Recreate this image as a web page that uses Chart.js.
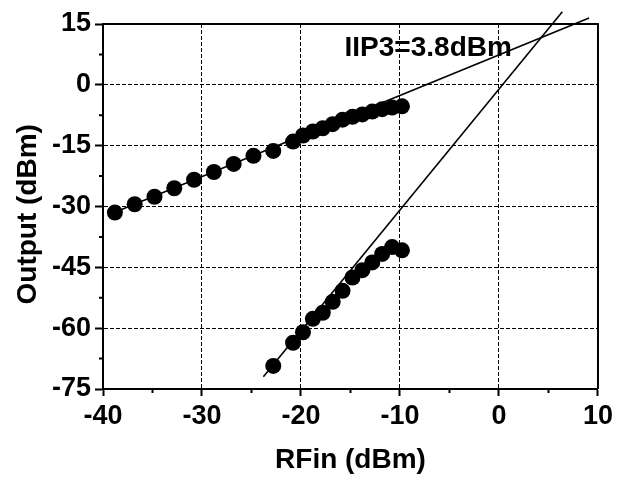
<!DOCTYPE html>
<html>
<head>
<meta charset="utf-8">
<script src="https://cdn.jsdelivr.net/npm/chart.js@4"></script>
<style>
html,body{margin:0;padding:0;background:#fff;}
#wrap{width:617px;height:481px;}
</style>
</head>
<body>
<div id="wrap"><canvas id="c" width="617" height="481"></canvas></div>
<script>
// ---- data ----
const fundX = [-38.8,-36.8,-34.8,-32.8,-30.8,-28.8,-26.8,-24.8,-22.8,-20.8,-19.8,-18.8,-17.8,-16.8,-15.8,-14.8,-13.8,-12.8,-11.8,-10.8,-9.8];
const fundY = [-31.5,-29.45,-27.6,-25.5,-23.4,-21.5,-19.5,-17.5,-16.3,-14.0,-12.5,-11.5,-10.7,-9.7,-8.6,-7.9,-7.3,-6.6,-6.0,-5.6,-5.3];
const im3X = [-22.8,-20.8,-19.8,-18.8,-17.8,-16.8,-15.8,-14.8,-13.8,-12.8,-11.8,-10.8,-9.8];
const im3Y = [-69.3,-63.6,-61.0,-57.7,-56.2,-53.5,-50.8,-47.5,-45.7,-43.8,-41.7,-40.0,-40.8];
const fundFitX = [-38.8, 9.1];
const fundFitY = [-31.4, 16.5];
const im3FitX = [-23.8, 6.4];
const im3FitY = [-72.0, 18.0];
const xTicks = [-40,-30,-20,-10,0,10];
const yTicks = [15,0,-15,-30,-45,-60,-75];
const xMinorTicks = [-35,-25,-15,-5,5];
const yMinorTicks = [7.5,-7.5,-22.5,-37.5,-52.5,-67.5];
const annotText = "IIP3=3.8dBm";
const annotPos = {x: -15.6, y: 7.1};
const xTitle = "RFin (dBm)";
const yTitle = "Output (dBm)";

const pts = (xs, ys) => xs.map((x, i) => ({x: x, y: ys[i]}));
const FONT = "'Liberation Sans', Arial, sans-serif";

const framePlugin = {
  id: 'frame',
  afterDraw(chart) {
    const {ctx, chartArea: a, scales} = chart;
    ctx.save();
    ctx.strokeStyle = '#000';
    ctx.lineWidth = 2;
    ctx.beginPath();
    ctx.moveTo(a.left, a.top); ctx.lineTo(a.right, a.top); ctx.lineTo(a.right, a.bottom);
    ctx.stroke();
    // minor ticks
    ctx.beginPath();
    xMinorTicks.forEach(v => {
      const px = scales.x.getPixelForValue(v);
      ctx.moveTo(px, a.bottom); ctx.lineTo(px, a.bottom + 4);
    });
    yMinorTicks.forEach(v => {
      const py = scales.y.getPixelForValue(v);
      ctx.moveTo(a.left, py); ctx.lineTo(a.left - 4, py);
    });
    ctx.stroke();
    // annotation
    ctx.fillStyle = '#000';
    ctx.font = "bold 28px " + FONT;
    ctx.textAlign = 'left';
    ctx.textBaseline = 'alphabetic';
    ctx.fillText(annotText, scales.x.getPixelForValue(annotPos.x), scales.y.getPixelForValue(annotPos.y));
    ctx.restore();
  }
};

const gridColor = (minV, maxV) => (c) => {
  const v = c.tick ? c.tick.value : null;
  if (v === null || v === minV || v === maxV) return 'rgba(0,0,0,0)';
  return '#000';
};

new Chart(document.getElementById('c'), {
  type: 'scatter',
  data: {
    datasets: [
      {label: 'fund', data: pts(fundX, fundY), showLine: false, pointRadius: 8, pointHoverRadius: 8,
       backgroundColor: '#000', borderColor: '#000', borderWidth: 0, order: 2},
      {label: 'im3', data: pts(im3X, im3Y), showLine: false, pointRadius: 8, pointHoverRadius: 8,
       backgroundColor: '#000', borderColor: '#000', borderWidth: 0, order: 2},
      {label: 'fundFit', data: pts(fundFitX, fundFitY), showLine: true, pointRadius: 0, borderWidth: 1.6,
       borderColor: '#000', clip: false, order: 1},
      {label: 'im3Fit', data: pts(im3FitX, im3FitY), showLine: true, pointRadius: 0, borderWidth: 1.6,
       borderColor: '#000', clip: false, order: 1}
    ]
  },
  options: {
    responsive: false,
    animation: false,
    devicePixelRatio: 1,
    layout: {padding: {left: 0, right: 19, top: 24, bottom: 0}},
    plugins: {legend: {display: false}, tooltip: {enabled: false}},
    scales: {
      x: {
        type: 'linear', min: -40, max: 10,
        afterBuildTicks: (s) => { s.ticks = xTicks.map(v => ({value: v})); },
        afterFit: (s) => { s.height = 92; },
        ticks: {color: '#000', font: {family: FONT, size: 27, weight: 'bold'}, padding: 4, maxRotation: 0,
                callback: (v) => String(v)},
        grid: {color: gridColor(-40, 10), lineWidth: 1, drawTicks: true, tickLength: 7,
               tickColor: '#000', tickWidth: 2},
        border: {display: true, color: '#000', width: 2, dash: [4, 2]},
        title: {display: true, text: xTitle, color: '#000', font: {family: FONT, size: 28, weight: 'bold'},
                padding: {top: 0, bottom: 4}}
      },
      y: {
        type: 'linear', min: -75, max: 15,
        afterBuildTicks: (s) => { s.ticks = yTicks.map(v => ({value: v})); },
        afterFit: (s) => { s.width = 103; },
        ticks: {color: '#000', font: {family: FONT, size: 27, weight: 'bold'}, padding: 4,
                callback: (v) => String(v)},
        grid: {color: gridColor(-75, 15), lineWidth: 1, drawTicks: true, tickLength: 8,
               tickColor: '#000', tickWidth: 2},
        border: {display: true, color: '#000', width: 2, dash: [4, 2]},
        title: {display: true, text: yTitle + "  ", color: '#000', font: {family: FONT, size: 28, weight: 'bold'},
                padding: {top: 11, bottom: 0}}
      }
    }
  },
  plugins: [framePlugin]
});
</script>
</body>
</html>
